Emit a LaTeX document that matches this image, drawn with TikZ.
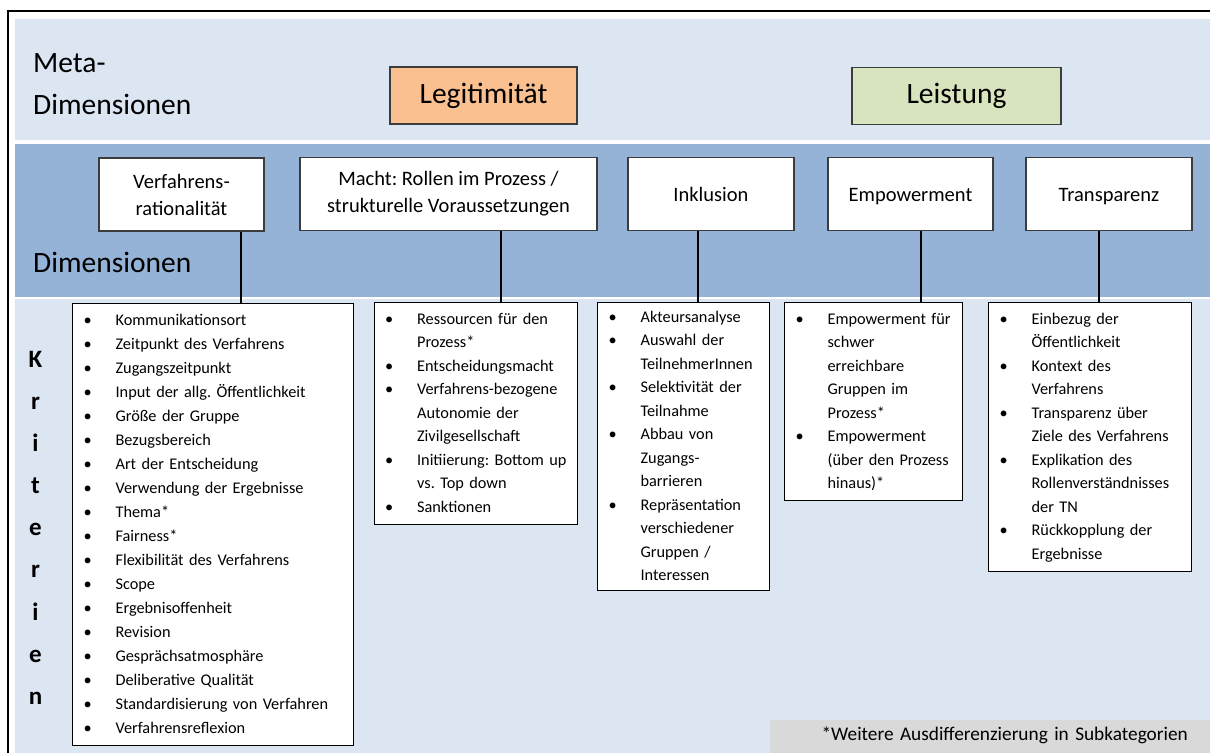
\documentclass[tikz,border=0pt]{standalone}
\usepackage{fontspec}
\setmainfont{Carlito}
\usetikzlibrary{positioning}
\frenchspacing

\definecolor{bandhell}{RGB}{220,230,242}
\definecolor{banddunkel}{RGB}{149,179,215}
\definecolor{legitfarbe}{RGB}{250,192,144}
\definecolor{leistfarbe}{RGB}{215,228,189}
\definecolor{fussgrau}{RGB}{217,217,217}
\definecolor{rahmen}{RGB}{60,60,60}

\newcommand{\zs}{\rule[-.3\baselineskip]{0pt}{\baselineskip}}
\newcommand{\pkt}[1]{\zs\makebox[43pt][l]{\makebox[30pt]{\textbullet}}#1}
\newcommand{\wtr}[1]{\zs\hspace*{43pt}#1}

\begin{document}
\begin{tikzpicture}[x=1pt,y=-1pt,
    metabox/.style={draw=rahmen,line width=1.4pt,minimum height=57pt,inner sep=0pt,font=\fontsize{29.5}{34}\selectfont},
    dimbox/.style={draw=rahmen,line width=1.4pt,fill=white,minimum height=73pt,inner sep=0pt,align=center,font=\fontsize{20.5}{27}\selectfont},
    dimeins/.style={dimbox,text height=19pt,text depth=3.6pt},
    kritbox/.style={draw=black,line width=1.2pt,fill=white,anchor=north west,align=left,inner xsep=0pt,inner ysep=5pt,font=\fontsize{16.3}{23.5}\selectfont},
    verb/.style={line width=1.1pt,black}]
    \useasboundingbox (0,0) rectangle (1210,753);
    % Baender
    \fill[bandhell] (15,19) rectangle (1210,140);
    \fill[banddunkel] (15,144) rectangle (1210,296.5);
    \fill[bandhell] (15,299) rectangle (1210,753);
    \draw[line width=2.5pt] (8,753) -- (8,11) -- (1210,11);

    \node[anchor=north west,inner sep=0pt,align=left,font=\fontsize{29.5}{42}\selectfont] (metatitel) at (33,53) {Meta-\\Dimensionen};
    \node[anchor=base west,inner sep=0pt,font=\fontsize{29.5}{42}\selectfont] (dimtitel) at (33,272) {Dimensionen};
    \node[anchor=north,inner sep=0pt,align=center,font=\fontsize{25}{42.1}\selectfont\bfseries] (krittitel) at (35.5,351) {K\\r\\i\\t\\e\\r\\i\\e\\n};

    \node[metabox,fill=legitfarbe,minimum width=187pt] (legit) at (483.5,95.5) {Legitimität};
    \node[metabox,fill=leistfarbe,minimum width=209pt] (leist) at (956.5,96) {Leistung};

    \node[dimbox,minimum width=165pt] (vr) at (181.5,194.5) {Verfahrens-\\rationalität};
    \node[dimbox,minimum width=297pt] (macht) at (448.5,194) {Macht: Rollen im Prozess /\\strukturelle Voraussetzungen};
    \node[dimeins,minimum width=166pt] (inkl) at (711,194) {Inklusion};
    \node[dimeins,minimum width=165pt] (emp) at (910.5,194) {Empowerment};
    \node[dimeins,minimum width=166pt] (trans) at (1109,194) {Transparenz};

    \node[kritbox,text width=281pt,font=\fontsize{16.3}{24}\selectfont] (kr1) at (72,303) {%
      \pkt{Kommunikationsort}\\
      \pkt{Zeitpunkt des Verfahrens}\\
      \pkt{Zugangszeitpunkt}\\
      \pkt{Input der allg. Öffentlichkeit}\\
      \pkt{Größe der Gruppe}\\
      \pkt{Bezugsbereich}\\
      \pkt{Art der Entscheidung}\\
      \pkt{Verwendung der Ergebnisse}\\
      \pkt{Thema*}\\
      \pkt{Fairness*}\\
      \pkt{Flexibilität des Verfahrens}\\
      \pkt{Scope}\\
      \pkt{Ergebnisoffenheit}\\
      \pkt{Revision}\\
      \pkt{Gesprächsatmosphäre}\\
      \pkt{Deliberative Qualität}\\
      \pkt{Standardisierung von Verfahren}\\
      \pkt{Verfahrensreflexion}};
    \node[kritbox,text width=203.5pt] (kr2) at (373.5,302) {%
      \pkt{Ressourcen für den}\\
      \wtr{Prozess*}\\
      \pkt{Entscheidungsmacht}\\
      \pkt{Verfahrens-bezogene}\\
      \wtr{Autonomie der}\\
      \wtr{Zivilgesellschaft}\\
      \pkt{Initiierung: Bottom up}\\
      \wtr{vs. Top down}\\
      \pkt{Sanktionen}};
    \node[kritbox,text width=172pt,inner ysep=3pt] (kr3) at (597,302) {%
      \pkt{Akteursanalyse}\\
      \pkt{Auswahl der}\\
      \wtr{TeilnehmerInnen}\\
      \pkt{Selektivität der}\\
      \wtr{Teilnahme}\\
      \pkt{Abbau von}\\
      \wtr{Zugangs-}\\
      \wtr{barrieren}\\
      \pkt{Repräsentation}\\
      \wtr{verschiedener}\\
      \wtr{Gruppen /}\\
      \wtr{Interessen}};
    \node[kritbox,text width=177.5pt] (kr4) at (784,302) {%
      \pkt{Empowerment für}\\
      \wtr{schwer}\\
      \wtr{erreichbare}\\
      \wtr{Gruppen im}\\
      \wtr{Prozess*}\\
      \pkt{Empowerment}\\
      \wtr{(über den Prozess}\\
      \wtr{hinaus)*}};
    \node[kritbox,text width=203pt] (kr5) at (988,302) {%
      \pkt{Einbezug der}\\
      \wtr{Öffentlichkeit}\\
      \pkt{Kontext des}\\
      \wtr{Verfahrens}\\
      \pkt{Transparenz über}\\
      \wtr{Ziele des Verfahrens}\\
      \pkt{Explikation des}\\
      \wtr{Rollenverständnisses}\\
      \wtr{der TN}\\
      \pkt{Rückkopplung der}\\
      \wtr{Ergebnisse}};

    \draw[verb] ([xshift=59.5pt]vr.south) -- ([xshift=59.5pt]vr.south |- kr1.north);
    \draw[verb] ([xshift=52.5pt]macht.south) -- ([xshift=52.5pt]macht.south |- kr2.north);
    \draw[verb] ([xshift=-13pt]inkl.south) -- ([xshift=-13pt]inkl.south |- kr3.north);
    \draw[verb] ([xshift=10.5pt]emp.south) -- ([xshift=10.5pt]emp.south |- kr4.north);
    \draw[verb] ([xshift=-10pt]trans.south) -- ([xshift=-10pt]trans.south |- kr5.north);

    \node[anchor=south east,fill=fussgrau,minimum width=440pt,minimum height=33pt,inner sep=0pt,text width=396pt,align=right,font=\fontsize{19.3}{22}\selectfont] (fuss) at (1210,753) {\zs*Weitere Ausdifferenzierung in Subkategorien};
\end{tikzpicture}
\end{document}
